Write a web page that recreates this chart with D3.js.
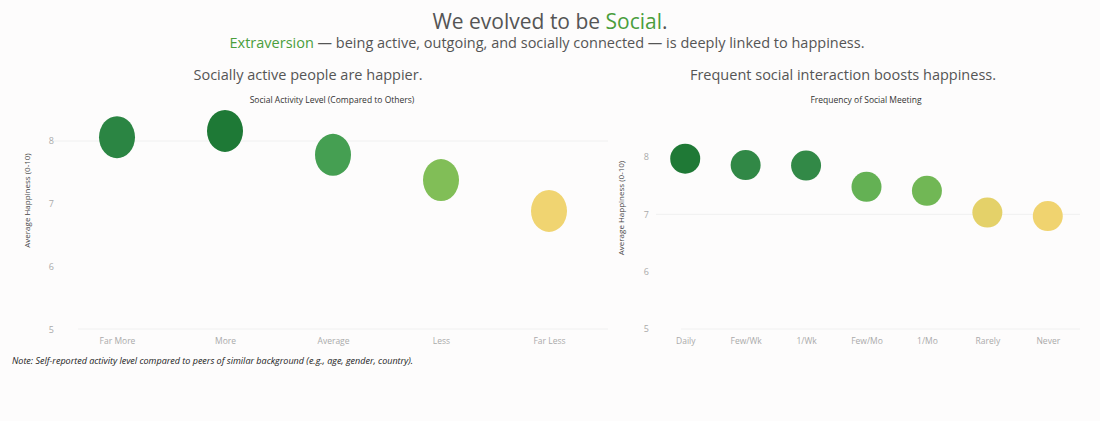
<!DOCTYPE html>
<html><head><meta charset="utf-8">
<script src="https://cdn.jsdelivr.net/npm/d3@7"></script>
<style>body{margin:0;background:#fdfcfc;font-family:"Open Sans",sans-serif}</style>
</head><body><svg id="c" width="1100" height="421"></svg>
<script>
const activityCats = ["Far More","More","Average","Less","Far Less"];
const activityVals = [8.06,8.16,7.78,7.38,6.89];
const activityColors = ["#24813d","#177530","#3f9c4c","#7dbc52","#efd36c"];
const freqCats = ["Daily","Few/Wk","1/Wk","Few/Mo","1/Mo","Rarely","Never"];
const freqVals = [7.97,7.86,7.85,7.48,7.41,7.03,6.97];
const freqColors = ["#187530","#2a8440","#2b8541","#5fae4e","#6cb550","#e3d064","#efd26a"];
const yTicks = [5,6,7,8];

const svg = d3.select("#c");
svg.append("text").attr("x",550).attr("y",29).attr("text-anchor","middle")
  .attr("font-size",21).attr("fill","#555")
  .html('We evolved to be <tspan fill="#4a9e3c">Social</tspan>.');
svg.append("text").attr("x",547).attr("y",48).attr("text-anchor","middle")
  .attr("font-size",14.5).attr("fill","#555")
  .html('<tspan fill="#4a9e3c">Extraversion</tspan> — being active, outgoing, and socially connected — is deeply linked to happiness.');

function panel(o){
  const g = svg.append("g");
  g.append("text").attr("x",o.cx).attr("y",80).attr("text-anchor","middle")
    .attr("font-size",14.5).attr("fill","#555").text(o.title);
  g.append("text").attr("x",o.cx2).attr("y",103).attr("text-anchor","middle")
    .attr("font-size",8.5).attr("fill","#333").text(o.xTitle);
  const x = d3.scalePoint().domain(o.cats).range(o.xr).padding(0.5);
  const y = d3.scaleLinear().domain([5,8]).range(o.yr);
  g.selectAll(".grid").data(o.grid).join("line")
    .attr("x1",o.gx[0]).attr("x2",o.gx[1]).attr("y1",d=>y(d)).attr("y2",d=>y(d))
    .attr("stroke","#f0f0f0");
  g.append("line").attr("x1",o.gx[0]+25).attr("x2",o.gx[1]).attr("y1",o.base).attr("y2",o.base).attr("stroke","#f0f0f0");
  const ya = g.append("g").attr("transform",`translate(${o.tickX},0)`)
    .call(d3.axisLeft(y).tickValues(yTicks).tickSize(0).tickFormat(d3.format("d")));
  ya.select(".domain").remove();
  ya.selectAll("text").attr("font-size",9).attr("fill","#aaa").attr("font-family","Open Sans,sans-serif");
  const xa = g.append("g").attr("transform",`translate(0,${o.base+6})`)
    .call(d3.axisBottom(x).tickSize(0));
  xa.select(".domain").remove();
  xa.selectAll("text").attr("font-size",8.5).attr("fill","#aaa").attr("font-family","Open Sans,sans-serif");
  g.append("text").attr("transform",`translate(${o.titleX},${(o.yr[0]+o.yr[1])/2-35}) rotate(-90)`)
    .attr("text-anchor","middle").attr("font-size",8).attr("fill","#444").text("Average Happiness (0-10)");
  g.selectAll("ellipse").data(o.vals).join("ellipse")
    .attr("cx",(d,i)=>x(o.cats[i])).attr("cy",d=>y(d))
    .attr("rx",o.rx).attr("ry",o.ry).attr("fill",(d,i)=>o.colors[i]).attr("opacity",0.97);
}
panel({title:"Socially active people are happier.", cx:308, cx2:332, xTitle:"Social Activity Level (Compared to Others)",
  cats:activityCats, vals:activityVals, colors:activityColors, xr:[63,603], yr:[330,141],
  gx:[53,608], base:329, tickX:57, titleX:30, rx:18, ry:21, grid:[8]});
panel({title:"Frequent social interaction boosts happiness.", cx:843, cx2:866, xTitle:"Frequency of Social Meeting",
  cats:freqCats, vals:freqVals, colors:freqColors, xr:[655,1078], yr:[329,157],
  gx:[656,1080], base:329, tickX:652, titleX:624, rx:15, ry:15, grid:[7]});
svg.append("text").attr("x",12).attr("y",364).attr("font-size",9).attr("font-style","italic").attr("fill","#222")
  .text("Note: Self-reported activity level compared to peers of similar background (e.g., age, gender, country).");
</script></body></html>
